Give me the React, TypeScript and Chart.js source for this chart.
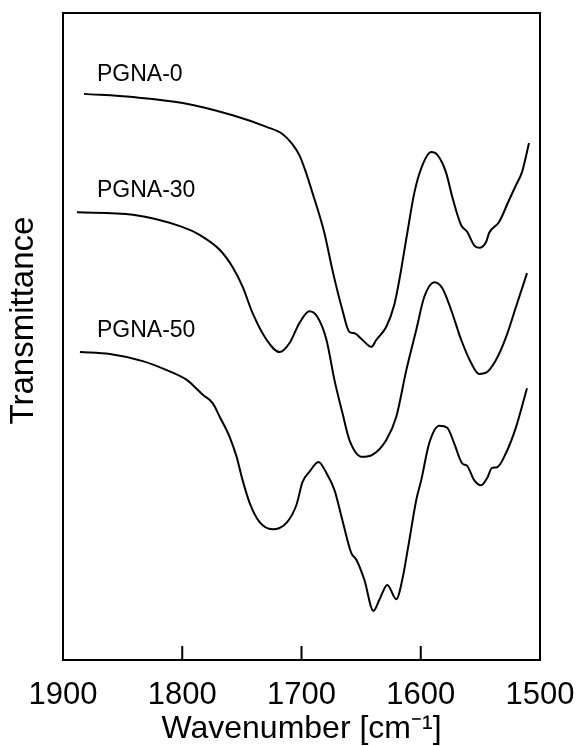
import React, { useEffect, useRef } from "react";
import { Chart, registerables } from "chart.js";

Chart.register(...registerables);

const FONT = '"Liberation Sans", Arial, Helvetica, sans-serif';

const xTicks = [1900, 1800, 1700, 1600, 1500];
const yTitle = "Transmittance";
const seriesNames = ["PGNA-0", "PGNA-30", "PGNA-50"];
const labelWn = [1871.5, 1871.5, 1871.5];
const labelT = [90.5, 72.5, 50.9];

const pgna0Wn = [1882.4, 1841.4, 1799.6, 1757.7, 1729.3, 1716, 1708, 1701.7, 1696.7, 1690.8, 1680.8, 1674.1, 1665.7, 1659.8, 1655.6, 1649, 1641.4, 1637.2, 1628.9, 1622.2, 1618, 1611.3, 1605.4, 1599.6, 1591.2, 1586.2, 1578.7, 1573.6, 1566.1, 1561.1, 1555.2, 1551, 1545.2, 1542.7, 1534.3, 1525.9, 1520.1, 1515.1, 1509.2];
const pgna0T = [87.5, 87.0, 86.1, 84.2, 82.4, 81.3, 79.8, 78.0, 75.6, 72.2, 66.0, 60.3, 54.1, 50.7, 50.5, 49.5, 48.4, 49.5, 51.5, 54.9, 58.7, 66.0, 72.2, 76.0, 78.5, 78.1, 75.3, 71.6, 67.2, 66.2, 64.1, 63.7, 64.6, 66.0, 67.7, 71.1, 73.4, 75.4, 79.9];

const pgna30Wn = [1888.3, 1841.4, 1799.6, 1785.4, 1768.6, 1757.7, 1749.4, 1741, 1729.3, 1718.4, 1710, 1701.7, 1693.3, 1686.6, 1679.1, 1672.4, 1665.7, 1659.8, 1649, 1640.6, 1628.9, 1620.5, 1612.1, 1603.8, 1597.1, 1588.7, 1582, 1574.5, 1566.1, 1557.7, 1551, 1545.2, 1536.8, 1528.5, 1520.1, 1510.9];
const pgna30T = [69.2, 68.8, 66.9, 65.7, 63.4, 60.7, 57.7, 53.6, 49.5, 47.6, 49.0, 52.1, 53.9, 53.0, 49.5, 43.3, 38.2, 34.0, 31.4, 31.7, 34.0, 37.6, 44.8, 51.0, 56.1, 58.4, 57.5, 54.1, 49.5, 45.9, 44.2, 44.4, 46.4, 49.9, 54.6, 59.8];

const pgna50Wn = [1885.8, 1860.7, 1833.1, 1813, 1796.2, 1791.2, 1782.8, 1774.5, 1768.6, 1760.3, 1754.4, 1749.4, 1743.5, 1735.1, 1724.3, 1712.6, 1704.2, 1699.2, 1693.3, 1685.8, 1679.1, 1672.4, 1665.7, 1658.2, 1654, 1647.3, 1639.7, 1634.7, 1628, 1620.5, 1615.5, 1609.6, 1603.8, 1599.6, 1592.9, 1584.5, 1577.8, 1572, 1565.3, 1561.1, 1555.2, 1549.4, 1544.4, 1540.2, 1536, 1528.5, 1520.1, 1510.9];
const pgna50T = [47.6, 47.3, 46.2, 44.8, 43.3, 42.5, 41.0, 39.7, 37.6, 34.5, 31.4, 27.8, 24.3, 21.3, 20.2, 21.2, 24.0, 27.5, 29.1, 30.6, 28.9, 26.3, 21.6, 16.5, 15.5, 12.4, 7.6, 9.3, 11.6, 9.4, 12.4, 18.5, 24.7, 27.8, 33.5, 36.2, 35.9, 33.5, 30.4, 30.0, 27.8, 27.0, 28.1, 29.7, 29.8, 32.0, 36.0, 42.0];

const toPoints = (xs: number[], ys: number[]) => xs.map((x, i) => ({ x, y: ys[i] }));

const framePlugin = {
  id: "frameAndLabels",
  afterDatasetsDraw(chart: any) {
    const { ctx, chartArea: a, scales } = chart;
    ctx.save();
    ctx.strokeStyle = "#000";
    ctx.lineWidth = 2;
    ctx.strokeRect(a.left, a.top, a.right - a.left, a.bottom - a.top);
    xTicks.forEach((v) => {
      const px = scales.x.getPixelForValue(v);
      ctx.beginPath();
      ctx.moveTo(px, a.bottom);
      ctx.lineTo(px, a.bottom - 14);
      ctx.stroke();
    });
    ctx.fillStyle = "#000";
    ctx.font = `23px ${FONT}`;
    ctx.textBaseline = "middle";
    ctx.textAlign = "left";
    seriesNames.forEach((n, i) => {
      ctx.fillText(n, scales.x.getPixelForValue(labelWn[i]), scales.y.getPixelForValue(labelT[i]));
    });
    // y-axis title, centred a little above the middle of the plot as in the source figure
    ctx.save();
    ctx.translate(24, (a.top + a.bottom) / 2 - 16);
    ctx.rotate(-Math.PI / 2);
    ctx.font = `33px ${FONT}`;
    ctx.textAlign = "center";
    ctx.textBaseline = "middle";
    ctx.fillText(yTitle, 0, 0);
    ctx.restore();
    ctx.restore();
  },
};

export default function App() {
  const ref = useRef<HTMLCanvasElement | null>(null);
  useEffect(() => {
    if (!ref.current) return;
    const mk = (label: string, xs: number[], ys: number[]) => ({
      label,
      data: toPoints(xs, ys),
      borderColor: "#000",
      backgroundColor: "#000",
      borderWidth: 2,
      pointRadius: 0,
      cubicInterpolationMode: "monotone" as const,
      fill: false,
    });
    const chart = new Chart(ref.current, {
      type: "line",
      data: {
        datasets: [
          mk(seriesNames[0], pgna0Wn, pgna0T),
          mk(seriesNames[1], pgna30Wn, pgna30T),
          mk(seriesNames[2], pgna50Wn, pgna50T),
        ],
      },
      options: {
        responsive: false,
        animation: false,
        devicePixelRatio: 1,
        layout: { padding: { top: 13, right: 39, left: 0, bottom: 0 } },
        plugins: { legend: { display: false }, tooltip: { enabled: false } },
        scales: {
          x: {
            type: "linear",
            min: 1500,
            max: 1900,
            reverse: true,
            afterBuildTicks: (s: any) => {
              s.ticks = xTicks.map((v) => ({ value: v }));
            },
            afterFit: (s: any) => {
              s.height = 86;
              s.paddingLeft = 0;
              s.paddingRight = 0;
            },
            grid: { display: false },
            border: { display: false },
            ticks: {
              color: "#000",
              font: { family: FONT, size: 31 },
              padding: 9,
              maxRotation: 0,
              autoSkip: false,
              callback: (v: any) => String(v),
            },
            title: {
              display: true,
              text: "Wavenumber [cm⁻¹]",
              color: "#000",
              font: { family: FONT, size: 32 },
              padding: { top: 0, bottom: -2 },
            },
          },
          y: {
            type: "linear",
            min: 0,
            max: 100,
            afterFit: (s: any) => {
              s.width = 63;
              s.paddingTop = 0;
              s.paddingBottom = 0;
            },
            grid: { display: false },
            border: { display: false },
            ticks: { display: false },
            title: { display: false, text: yTitle },
          },
        },
      },
      plugins: [framePlugin],
    });
    return () => chart.destroy();
  }, []);
  return (
    <div style={{ position: "fixed", left: 0, top: 0, width: 579, height: 746, background: "#fff" }}>
      <canvas ref={ref} width={579} height={746} style={{ display: "block" }} />
    </div>
  );
}
